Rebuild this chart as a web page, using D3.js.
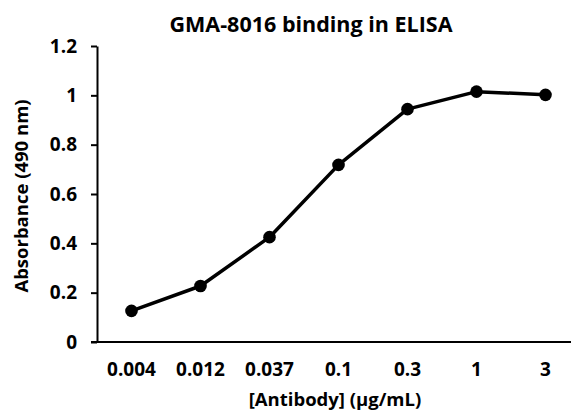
<!DOCTYPE html>
<html lang="en">
<head>
    <meta charset="UTF-8">
    <title>GMA-8016 binding in ELISA</title>
    <script src="https://d3js.org/d3.v7.min.js"></script>
    <style>
        body {
            margin: 0;
            padding: 0;
            background: #fff;
            font-family: "Open Sans", "Noto Sans", Arial, sans-serif;
        }
        .tick text {
            font-family: "Open Sans", "Noto Sans", Arial, sans-serif;
            font-size: 19px;
            font-weight: bold;
            fill: #000;
        }
        .axis-title {
            font-size: 18.5px;
            font-weight: bold;
        }
    </style>
</head>
<body>
    <div id="chart"></div>

    <script>
        const concentrations = ["0.004", "0.012", "0.037", "0.1", "0.3", "1", "3"];
        const absorbance = [0.126, 0.227, 0.425, 0.718, 0.944, 1.015, 1.002];
        const yTicks = [0, 0.2, 0.4, 0.6, 0.8, 1, 1.2];

        const width = 571;
        const height = 414;
        const margin = { top: 46, right: 0, bottom: 72, left: 97 };

        const svg = d3.select("#chart").append("svg")
            .attr("width", width)
            .attr("height", height);

        // last band runs past the right edge, as in the original crop
        const x = d3.scaleBand()
            .domain(concentrations)
            .range([margin.left, 580]);

        const y = d3.scaleLinear()
            .domain([0, 1.2])
            .range([height - margin.bottom, margin.top]);

        // y axis
        const yAxis = svg.append("g")
            .attr("transform", `translate(${margin.left},0)`)
            .call(d3.axisLeft(y).tickValues(yTicks).tickSize(6).tickSizeOuter(0).tickPadding(14)
                .tickFormat(d => d3.format("~g")(d)));
        yAxis.select(".domain").attr("stroke", "#000").attr("stroke-width", 2);
        yAxis.selectAll(".tick line").attr("stroke", "#000").attr("stroke-width", 2);

        // x axis (no tick marks, line runs to the edge)
        const xAxis = svg.append("g")
            .attr("transform", `translate(0,${y(0)})`)
            .call(d3.axisBottom(x).tickSize(0).tickPadding(21));
        xAxis.select(".domain").remove();
        xAxis.append("line")
            .attr("x1", margin.left - 6)
            .attr("x2", width)
            .attr("stroke", "#000")
            .attr("stroke-width", 2);

        const data = concentrations.map((c, i) => ({ c: c, v: absorbance[i] }));

        const line = d3.line()
            .x(d => x(d.c) + x.bandwidth() / 2)
            .y(d => y(d.v));

        svg.append("path")
            .datum(data)
            .attr("fill", "none")
            .attr("stroke", "#000")
            .attr("stroke-width", 3.5)
            .attr("stroke-linejoin", "round")
            .attr("d", line);

        svg.selectAll(".dot")
            .data(data)
            .enter().append("circle")
            .attr("class", "dot")
            .attr("cx", d => x(d.c) + x.bandwidth() / 2)
            .attr("cy", d => y(d.v))
            .attr("r", 6.3)
            .attr("fill", "#000");

        // titles
        svg.append("text")
            .attr("x", 311)
            .attr("y", 31.5)
            .attr("text-anchor", "middle")
            .style("font-size", "21.5px")
            .style("font-weight", "bold")
            .text("GMA-8016 binding in ELISA");

        svg.append("text")
            .attr("class", "axis-title")
            .attr("x", 335)
            .attr("y", 406)
            .attr("text-anchor", "middle")
            .text("[Antibody] (µg/mL)");

        svg.append("text")
            .attr("class", "axis-title")
            .attr("transform", "translate(28,196) rotate(-90)")
            .attr("text-anchor", "middle")
            .text("Absorbance (490 nm)");
    </script>
</body>
</html>
